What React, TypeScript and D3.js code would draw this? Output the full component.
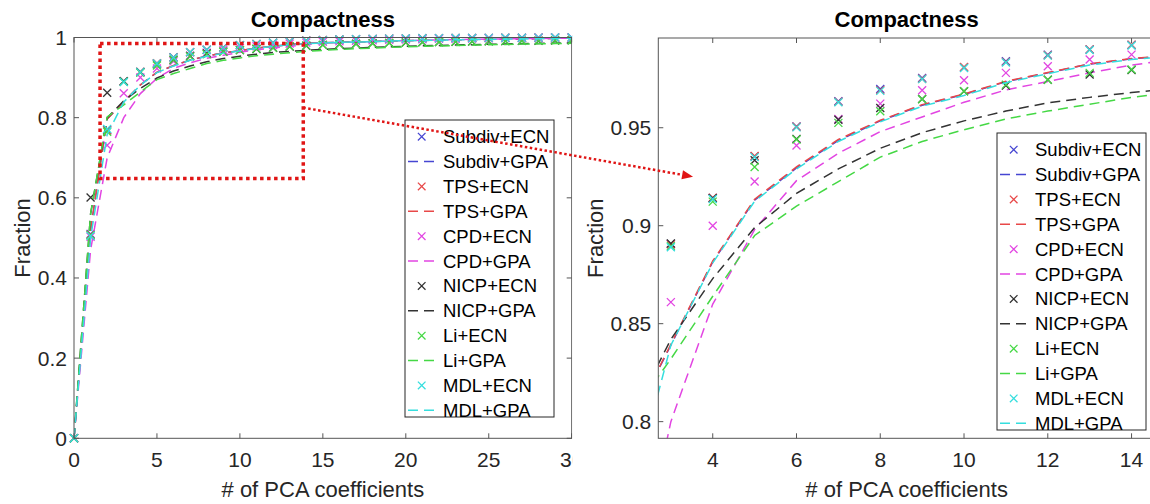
import { useRef, useEffect } from 'react';
import * as d3 from 'd3';

// number of PCA coefficients (x values)
const nCoeffs = [0, 1, 2, 3, 4, 5, 6, 7, 8, 9, 10, 11, 12, 13, 14, 15, 16, 17, 18, 19, 20, 21, 22, 23, 24, 25, 26, 27, 28, 29, 30];

// ECN results (markers)
const subdivEcn = [0, 0.51, 0.77, 0.8907, 0.9141, 0.9354, 0.9507, 0.9635, 0.9698, 0.9754, 0.9808, 0.9839, 0.9873, 0.9899, 0.9922, 0.9935, 0.995, 0.996, 0.9966, 0.9972, 0.9977, 0.9981, 0.9984, 0.9987, 0.9989, 0.9991, 0.9993, 0.9995, 0.9997, 0.9999, 1.0];
const tpsEcn = [0, 0.508, 0.768, 0.8905, 0.9143, 0.9356, 0.9505, 0.9633, 0.9692, 0.975, 0.981, 0.9836, 0.987, 0.99, 0.9924, 0.9936, 0.995, 0.996, 0.9966, 0.9972, 0.9977, 0.9981, 0.9984, 0.9987, 0.9989, 0.9991, 0.9993, 0.9995, 0.9997, 0.9999, 1.0];
const cpdEcn = [0, 0.503, 0.731, 0.861, 0.9, 0.9226, 0.9409, 0.9545, 0.9623, 0.9691, 0.9742, 0.978, 0.9814, 0.9848, 0.9873, 0.989, 0.9905, 0.992, 0.993, 0.994, 0.995, 0.9958, 0.9965, 0.997, 0.9975, 0.998, 0.9985, 0.9988, 0.9992, 0.9996, 1.0];
const nicpEcn = [0, 0.601, 0.862, 0.891, 0.914, 0.9334, 0.9443, 0.9541, 0.9601, 0.9647, 0.9686, 0.9715, 0.9745, 0.9772, 0.9795, 0.9815, 0.983, 0.9843, 0.9855, 0.9865, 0.9874, 0.9882, 0.9889, 0.9895, 0.99, 0.9905, 0.991, 0.9915, 0.992, 0.9925, 0.993];
const liEcn = [0, 0.507, 0.765, 0.8895, 0.9123, 0.93, 0.944, 0.9525, 0.9584, 0.9645, 0.9686, 0.972, 0.9745, 0.978, 0.9797, 0.9812, 0.9826, 0.9839, 0.9851, 0.9862, 0.9872, 0.9881, 0.9889, 0.9896, 0.9902, 0.9908, 0.9913, 0.9918, 0.9923, 0.9928, 0.9933];
const mdlEcn = [0, 0.505, 0.772, 0.889, 0.9136, 0.935, 0.9502, 0.963, 0.9688, 0.9748, 0.9805, 0.9833, 0.9868, 0.9897, 0.992, 0.9933, 0.9948, 0.9958, 0.9965, 0.9971, 0.9976, 0.998, 0.9984, 0.9987, 0.9989, 0.9991, 0.9993, 0.9995, 0.9997, 0.9999, 1.0];

// GPA results (dashed lines)
const subdivGpa = [0, 0.52, 0.797, 0.839, 0.8815, 0.913, 0.9295, 0.9435, 0.9535, 0.9615, 0.967, 0.9735, 0.978, 0.9825, 0.9852, 0.9868, 0.988, 0.989, 0.99, 0.991, 0.992, 0.9928, 0.9935, 0.9942, 0.9948, 0.9954, 0.996, 0.9966, 0.9972, 0.9978, 0.9985];
const tpsGpa = [0, 0.52, 0.797, 0.8395, 0.882, 0.9135, 0.93, 0.944, 0.9538, 0.9618, 0.9672, 0.9737, 0.9782, 0.9826, 0.9853, 0.9869, 0.9881, 0.9891, 0.9901, 0.9911, 0.992, 0.9928, 0.9935, 0.9942, 0.9948, 0.9954, 0.996, 0.9966, 0.9972, 0.9978, 0.9985];
const cpdGpa = [0, 0.47, 0.7, 0.8, 0.86, 0.898, 0.923, 0.937, 0.948, 0.9555, 0.963, 0.9693, 0.9736, 0.978, 0.982, 0.9848, 0.9868, 0.9885, 0.99, 0.9912, 0.9923, 0.9932, 0.994, 0.9947, 0.9954, 0.996, 0.9966, 0.9971, 0.9976, 0.998, 0.9985];
const nicpGpa = [0, 0.56, 0.8, 0.842, 0.873, 0.899, 0.9165, 0.929, 0.9395, 0.9475, 0.9535, 0.9585, 0.9627, 0.9655, 0.968, 0.97, 0.972, 0.9738, 0.9754, 0.9768, 0.978, 0.9792, 0.9803, 0.9813, 0.9822, 0.983, 0.9838, 0.9845, 0.9852, 0.9858, 0.9864];
const liGpa = [0, 0.56, 0.802, 0.832, 0.864, 0.895, 0.91, 0.9225, 0.935, 0.943, 0.949, 0.9545, 0.9585, 0.962, 0.9655, 0.968, 0.97, 0.972, 0.9737, 0.9752, 0.9766, 0.9779, 0.979, 0.98, 0.981, 0.9819, 0.9827, 0.9835, 0.9842, 0.9848, 0.9854];
const mdlGpa = [0, 0.5, 0.758, 0.839, 0.881, 0.9125, 0.929, 0.943, 0.953, 0.961, 0.9665, 0.973, 0.9776, 0.982, 0.9848, 0.9865, 0.9878, 0.9888, 0.9899, 0.9909, 0.9919, 0.9927, 0.9934, 0.9941, 0.9947, 0.9953, 0.9959, 0.9965, 0.9971, 0.9977, 0.9984];

const seriesNames = ['Subdiv+ECN', 'Subdiv+GPA', 'TPS+ECN', 'TPS+GPA', 'CPD+ECN', 'CPD+GPA', 'NICP+ECN', 'NICP+GPA', 'Li+ECN', 'Li+GPA', 'MDL+ECN', 'MDL+GPA'];
const seriesValues = [subdivEcn, subdivGpa, tpsEcn, tpsGpa, cpdEcn, cpdGpa, nicpEcn, nicpGpa, liEcn, liGpa, mdlEcn, mdlGpa];

// tick values
const leftXTicks = [0, 5, 10, 15, 20, 25, 30];
const leftYTicks = [0, 0.2, 0.4, 0.6, 0.8, 1];
const rightXTicks = [4, 6, 8, 10, 12, 14];
const rightYTicks = [0.8, 0.85, 0.9, 0.95];

// zoomed region drawn on the left plot, and arrow ends (data units)
const zoomBox = { x0: 1.57, x1: 13.82, y0: 0.648, y1: 0.985 };
const arrowFrom = { x: 13.82, y: 0.825 };
const arrowTo = { x: 3.53, y: 0.925 };

const title = 'Compactness';
const xLabel = '# of PCA coefficients';
const yLabel = 'Fraction';

// styles
const FONT = '"Liberation Sans", Arial, Helvetica, sans-serif';
const colors = ['#4646d2', '#4646d2', '#e84848', '#e84848', '#e245e2', '#e245e2', '#333333', '#333333', '#45d845', '#45d845', '#35dede', '#35dede'];
const AXIS = '#555555';
const TEXT = '#262626';
const RED = '#e01515';
const DASH = '10,6';

interface Panel {
  left: number; right: number; top: number; bottom: number;
  xDomain: [number, number]; yDomain: [number, number];
  xTicks: number[]; yTicks: number[];
  legend: { x: number; y: number; w: number; h: number };
  yLabelX: number;
  clipMarkers: boolean;
}

const leftPanel: Panel = {
  left: 74, right: 571.7, top: 37.5, bottom: 438.3,
  xDomain: [0, 30], yDomain: [0, 1],
  xTicks: leftXTicks, yTicks: leftYTicks,
  legend: { x: 405, y: 120, w: 149, h: 297 },
  yLabelX: 30, clipMarkers: false,
};

const rightPanel: Panel = {
  left: 658.3, right: 1155, top: 38, bottom: 438.3,
  xDomain: [2.7, 14.56], yDomain: [0.7915, 0.9958],
  xTicks: rightXTicks, yTicks: rightYTicks,
  legend: { x: 997, y: 133, w: 149, h: 297 },
  yLabelX: 603, clipMarkers: true,
};

const cross = (s: number) => `M${-s},${-s}L${s},${s}M${-s},${s}L${s},${-s}`;

function drawPanel(root: d3.Selection<SVGSVGElement, unknown, null, undefined>, p: Panel, id: string) {
  const x = d3.scaleLinear().domain(p.xDomain).range([p.left, p.right]);
  const y = d3.scaleLinear().domain(p.yDomain).range([p.bottom, p.top]);
  const g = root.append('g');

  g.append('clipPath').attr('id', id)
    .append('rect')
    .attr('x', p.left).attr('y', p.top)
    .attr('width', p.right - p.left).attr('height', p.bottom - p.top);

  const line = d3.line<number>()
    .x((_, i) => x(nCoeffs[i]))
    .y(d => y(d));

  // series in plot order
  seriesNames.forEach((name, si) => {
    const vals = seriesValues[si];
    if (name.endsWith('GPA')) {
      g.append('path')
        .attr('clip-path', `url(#${id})`)
        .attr('d', line(vals))
        .attr('fill', 'none')
        .attr('stroke', colors[si])
        .attr('stroke-width', 1.5)
        .attr('stroke-dasharray', DASH);
    } else {
      const pts = vals
        .map((v, i) => ({ cx: nCoeffs[i], v }))
        .filter(d => !p.clipMarkers || (d.cx >= p.xDomain[0] && d.cx <= p.xDomain[1] && d.v >= p.yDomain[0]));
      g.append('g').selectAll('path').data(pts).enter().append('path')
        .attr('transform', d => `translate(${x(d.cx)},${y(d.v)})`)
        .attr('d', cross(4))
        .attr('fill', 'none')
        .attr('stroke', colors[si])
        .attr('stroke-width', 1.3);
    }
  });

  // box
  g.append('rect')
    .attr('x', p.left).attr('y', p.top)
    .attr('width', p.right - p.left).attr('height', p.bottom - p.top)
    .attr('fill', 'none').attr('stroke', AXIS).attr('stroke-width', 1);

  // ticks on all four sides, pointing inward
  const tl = 5;
  p.xTicks.forEach(t => {
    g.append('line').attr('x1', x(t)).attr('x2', x(t)).attr('y1', p.bottom).attr('y2', p.bottom - tl).attr('stroke', AXIS);
    g.append('line').attr('x1', x(t)).attr('x2', x(t)).attr('y1', p.top).attr('y2', p.top + tl).attr('stroke', AXIS);
    g.append('text').attr('x', x(t)).attr('y', 467)
      .attr('text-anchor', 'middle').attr('font-size', 21).attr('fill', TEXT)
      .attr('font-family', FONT).text(d3.format('~g')(t));
  });
  p.yTicks.forEach(t => {
    g.append('line').attr('x1', p.left).attr('x2', p.left + tl).attr('y1', y(t)).attr('y2', y(t)).attr('stroke', AXIS);
    g.append('line').attr('x1', p.right).attr('x2', p.right - tl).attr('y1', y(t)).attr('y2', y(t)).attr('stroke', AXIS);
    g.append('text').attr('x', p.left - 7).attr('y', y(t))
      .attr('text-anchor', 'end').attr('dominant-baseline', 'central')
      .attr('font-size', 21).attr('fill', TEXT)
      .attr('font-family', FONT).text(d3.format('~g')(t));
  });

  const cx = (p.left + p.right) / 2;
  g.append('text').attr('x', cx).attr('y', 27)
    .attr('text-anchor', 'middle').attr('font-size', 22).attr('font-weight', 'bold')
    .attr('font-family', FONT).attr('fill', '#000').text(title);
  g.append('text').attr('x', cx).attr('y', 497)
    .attr('text-anchor', 'middle').attr('font-size', 22)
    .attr('font-family', FONT).attr('fill', TEXT).text(xLabel);
  g.append('text')
    .attr('transform', `translate(${p.yLabelX},${(p.top + p.bottom) / 2}) rotate(-90)`)
    .attr('text-anchor', 'middle').attr('font-size', 22)
    .attr('font-family', FONT).attr('fill', TEXT).text(yLabel);

  // legend
  const L = p.legend;
  const lg = g.append('g');
  lg.append('rect').attr('x', L.x).attr('y', L.y).attr('width', L.w).attr('height', L.h)
    .attr('fill', '#fff').attr('stroke', '#262626').attr('stroke-width', 1);
  const rowH = (L.h - 23.4) / (seriesNames.length - 1);
  seriesNames.forEach((name, si) => {
    const ry = L.y + 16.7 + si * rowH;
    if (name.endsWith('GPA')) {
      lg.append('line').attr('x1', L.x + 3).attr('x2', L.x + 31).attr('y1', ry).attr('y2', ry)
        .attr('stroke', colors[si]).attr('stroke-width', 1.5).attr('stroke-dasharray', DASH);
    } else {
      lg.append('path').attr('transform', `translate(${L.x + 16.7},${ry})`).attr('d', cross(3.8))
        .attr('fill', 'none').attr('stroke', colors[si]).attr('stroke-width', 1.3);
    }
    lg.append('text').attr('x', L.x + 38).attr('y', ry)
      .attr('dominant-baseline', 'central').attr('font-size', 18.5)
      .attr('font-family', FONT).attr('fill', '#000').text(name);
  });

  return { x, y, g };
}

const App = () => {
  const ref = useRef<SVGSVGElement>(null);

  useEffect(() => {
    if (!ref.current) return;
    const svg = d3.select(ref.current);
    svg.selectAll('*').remove();

    svg.append('rect').attr('width', 1150).attr('height', 504).attr('fill', '#fff');

    const L = drawPanel(svg, leftPanel, 'clipLeft');

    // red dotted zoom box
    L.g.append('rect')
      .attr('x', L.x(zoomBox.x0)).attr('y', L.y(zoomBox.y1))
      .attr('width', L.x(zoomBox.x1) - L.x(zoomBox.x0))
      .attr('height', L.y(zoomBox.y0) - L.y(zoomBox.y1))
      .attr('fill', 'none').attr('stroke', RED).attr('stroke-width', 3.5)
      .attr('stroke-dasharray', '3.5,3.5');

    // right figure sits on a white background that hides the end of the left axis labels
    svg.append('rect').attr('x', 572.2).attr('y', 0).attr('width', 578).attr('height', 504).attr('fill', '#fff');

    const R = drawPanel(svg, rightPanel, 'clipRight');

    // arrow from the zoom box to the zoomed axes
    const x1 = L.x(arrowFrom.x), y1 = L.y(arrowFrom.y);
    const x2 = R.x(arrowTo.x), y2 = R.y(arrowTo.y);
    const ang = Math.atan2(y2 - y1, x2 - x1);
    const head = 11, hw = 4.5;
    const bx = x2 - head * Math.cos(ang), by = y2 - head * Math.sin(ang);
    svg.append('line').attr('x1', x1).attr('y1', y1).attr('x2', bx).attr('y2', by)
      .attr('stroke', RED).attr('stroke-width', 2.5).attr('stroke-dasharray', '2.5,2.5');
    svg.append('path')
      .attr('d', `M${x2},${y2}L${bx - hw * Math.sin(ang)},${by + hw * Math.cos(ang)}L${bx + hw * Math.sin(ang)},${by - hw * Math.cos(ang)}Z`)
      .attr('fill', RED);
  }, []);

  return (
    <svg ref={ref} width={1150} height={504} style={{ position: 'absolute', left: 0, top: 0 }} />
  );
};

export default App;
